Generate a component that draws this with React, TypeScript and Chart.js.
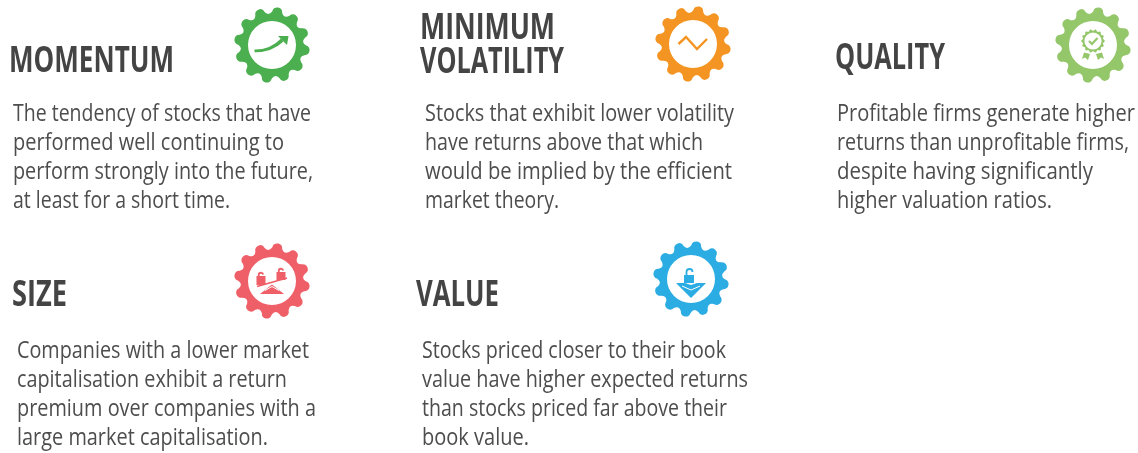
import React, { useEffect, useRef } from "react";
import { Chart, registerables } from "chart.js";

Chart.register(...registerables);

const factorNames = ["MOMENTUM", "MINIMUM VOLATILITY", "QUALITY", "SIZE", "VALUE"];
const headingLines = [["MOMENTUM"], ["MINIMUM", "VOLATILITY"], ["QUALITY"], ["SIZE"], ["VALUE"]];
const bodyLines = [
  ["The tendency of stocks that have", "performed well continuing to", "perform strongly into the future,", "at least for a short time."],
  ["Stocks that exhibit lower volatility", "have returns above that which", "would be implied by the efficient", "market theory."],
  ["Profitable firms generate higher", "returns than unprofitable firms,", "despite having significantly", "higher valuation ratios."],
  ["Companies with a lower market", "capitalisation exhibit a return", "premium over companies with a", "large market capitalisation."],
  ["Stocks priced closer to their book", "value have higher expected returns", "than stocks priced far above their", "book value."],
];

// layout (page pixels, which the hidden axes map one to one)
const W = 1138;
const H = 453;
const gearX = [272, 693, 1093, 272, 691];
const gearY = [45, 44, 45, 281, 279];
const gearColors = ["#4BAE4F", "#F49523", "#94C66A", "#EF5F68", "#2BACE2"];
const headX = [9, 420, 835, 12, 416];
const headY = [[72], [39, 73], [69], [306], [306]];
const headW = [[165], [135, 144], [110], [55], [83]];
const bodyX = [13, 425, 837, 17, 422];
const bodyY = [121, 121, 121, 358, 358];
const bodyW = [
  [298, 271, 300, 217],
  [309, 278, 307, 134],
  [298, 292, 256, 215],
  [292, 270, 299, 251],
  [304, 326, 305, 107],
];
const bodyPitch = 29;

function drawGlyph(c: CanvasRenderingContext2D, i: number, col: string) {
  c.fillStyle = col;
  c.strokeStyle = col;
  c.lineCap = "butt";
  c.lineJoin = "miter";
  const lock = (x: number, y: number, w: number, h: number, open: boolean) => {
    c.fillRect(x - w / 2, y - h / 2, w, h);
    c.lineWidth = 1.8;
    c.beginPath();
    if (open) {
      c.moveTo(x - w / 4, y - h / 2);
      c.lineTo(x - w / 4, y - h / 2 - 3);
      c.arc(x + 0.5, y - h / 2 - 3, w / 4 + 0.5, Math.PI, 0);
    } else {
      c.moveTo(x - w / 4, y - h / 2);
      c.arc(x, y - h / 2 - 1, w / 4, Math.PI, -0.2);
    }
    c.stroke();
  };
  if (i === 0) {
    c.beginPath();
    c.moveTo(-17.5, 4.5);
    c.quadraticCurveTo(-2, 5, 9, -6.5);
    c.lineTo(11.5, -3.5);
    c.quadraticCurveTo(0, 7.5, -17.5, 7.2);
    c.closePath();
    c.fill();
    c.beginPath();
    c.moveTo(6, -9);
    c.lineTo(16.5, -9);
    c.lineTo(15, 0);
    c.closePath();
    c.fill();
  } else if (i === 1) {
    c.lineWidth = 2.4;
    c.beginPath();
    c.moveTo(-14.5, 0);
    c.lineTo(-7, -7);
    c.lineTo(4, 5);
    c.lineTo(14, -5);
    c.stroke();
  } else if (i === 2) {
    const cy = -4;
    c.beginPath();
    for (let k = 0; k <= 240; k++) {
      const t = (k / 240) * Math.PI * 2;
      const r = 11 + 0.8 * Math.cos(14 * t);
      c.lineTo(r * Math.cos(t), cy + r * Math.sin(t));
    }
    c.closePath();
    c.arc(0, cy, 8.6, 0, Math.PI * 2, true);
    c.fill("evenodd");
    c.lineWidth = 2.2;
    c.beginPath();
    c.moveTo(-4, cy);
    c.lineTo(-1, cy + 3);
    c.lineTo(4.5, cy - 3);
    c.stroke();
    for (const s of [-1, 1]) {
      c.beginPath();
      c.moveTo(s * 3, 9);
      c.lineTo(s * 9, 7.5);
      c.lineTo(s * 11, 14);
      c.lineTo(s * 8, 12.5);
      c.lineTo(s * 5, 15);
      c.closePath();
      c.fill();
    }
  } else if (i === 3) {
    c.lineWidth = 1.8;
    c.beginPath();
    c.moveTo(-15, 5.5);
    c.lineTo(15, -3);
    c.stroke();
    lock(-11, -0.5, 9, 9, false);
    lock(9, -5, 9, 8, false);
    c.beginPath();
    c.moveTo(0, 3.5);
    c.lineTo(12, 13);
    c.lineTo(-12, 13);
    c.closePath();
    c.fill();
    c.strokeStyle = "#fff";
    c.lineWidth = 1;
    c.beginPath();
    c.moveTo(-7, 9.5);
    c.lineTo(0, 5.5);
    c.lineTo(7, 9.5);
    c.stroke();
  } else {
    lock(-2, 0, 10, 8, true);
    c.beginPath();
    c.moveTo(-15, 4);
    c.lineTo(-6, 4);
    c.lineTo(0, 6);
    c.lineTo(6, 4);
    c.lineTo(15, 4);
    c.lineTo(0, 19);
    c.closePath();
    c.fill();
    c.strokeStyle = "#fff";
    c.lineWidth = 1;
    c.beginPath();
    c.moveTo(-9, 7);
    c.lineTo(0, 11);
    c.lineTo(9, 7);
    c.stroke();
  }
}

function gearIcon(i: number): HTMLCanvasElement {
  const size = 84;
  const cv = document.createElement("canvas");
  cv.width = size;
  cv.height = size;
  const c = cv.getContext("2d") as CanvasRenderingContext2D;
  const col = gearColors[i];
  c.translate(size / 2, size / 2);
  c.fillStyle = col;
  c.beginPath();
  const offset = (9 * Math.PI) / 180;
  const R = 33;
  const lobe = 5;
  const span = (85 * Math.PI) / 180;
  for (let k = 0; k < 12; k++) {
    const a = offset - Math.PI / 2 + (k * Math.PI) / 6;
    c.arc(R * Math.cos(a), R * Math.sin(a), lobe, a - span, a + span);
    const mid = a + Math.PI / 12;
    const nextA = a + Math.PI / 6;
    const ex = R * Math.cos(nextA) + lobe * Math.cos(nextA - span);
    const ey = R * Math.sin(nextA) + lobe * Math.sin(nextA - span);
    c.quadraticCurveTo(29 * Math.cos(mid), 29 * Math.sin(mid), ex, ey);
  }
  c.closePath();
  c.moveTo(24, 0);
  c.arc(0, 0, 24, 0, Math.PI * 2, true);
  c.fill("evenodd");
  drawGlyph(c, i, col);
  return cv;
}

const textPlugin = {
  id: "factorText",
  afterDatasetsDraw(chart: any) {
    const { ctx, scales } = chart;
    const px = (v: number) => scales.x.getPixelForValue(v);
    const py = (v: number) => scales.y.getPixelForValue(v);
    const put = (t: string, x: number, y: number, width: number) => {
      ctx.save();
      ctx.translate(px(x), py(y));
      ctx.scale(width / ctx.measureText(t).width, 1);
      ctx.fillText(t, 0, 0);
      ctx.restore();
    };
    ctx.save();
    ctx.textAlign = "left";
    ctx.textBaseline = "alphabetic";
    ctx.font = "700 35px 'Open Sans'";
    ctx.fillStyle = "#444444";
    headingLines.forEach((lines, i) =>
      lines.forEach((t, j) => put(t, headX[i], headY[i][j], headW[i][j]))
    );
    ctx.font = "400 23.5px 'Open Sans'";
    ctx.fillStyle = "#4D4D4D";
    bodyLines.forEach((lines, i) =>
      lines.forEach((t, j) => put(t, bodyX[i], bodyY[i] + j * bodyPitch, bodyW[i][j]))
    );
    ctx.restore();
  },
};

export default function App() {
  const ref = useRef<HTMLCanvasElement>(null);
  useEffect(() => {
    document.body.style.margin = "0";
    const chart = new Chart(ref.current as HTMLCanvasElement, {
      type: "scatter",
      data: {
        labels: factorNames,
        datasets: [
          {
            label: "Factors",
            data: gearX.map((x, i) => ({ x, y: gearY[i] })),
            pointStyle: gearColors.map((_, i) => gearIcon(i)) as any,
            pointRadius: 38,
            pointHoverRadius: 38,
            clip: false as any,
          },
        ],
      },
      options: {
        animation: false,
        responsive: false,
        layout: { padding: 0, autoPadding: false },
        plugins: { legend: { display: false }, tooltip: { enabled: false } },
        scales: {
          x: { type: "linear", display: false, min: 0, max: W },
          y: { type: "linear", display: false, min: 0, max: H, reverse: true },
        },
      },
      plugins: [textPlugin],
    });
    return () => chart.destroy();
  }, []);
  return <canvas ref={ref} width={W} height={H} style={{ display: "block", width: W, height: H }} />;
}
